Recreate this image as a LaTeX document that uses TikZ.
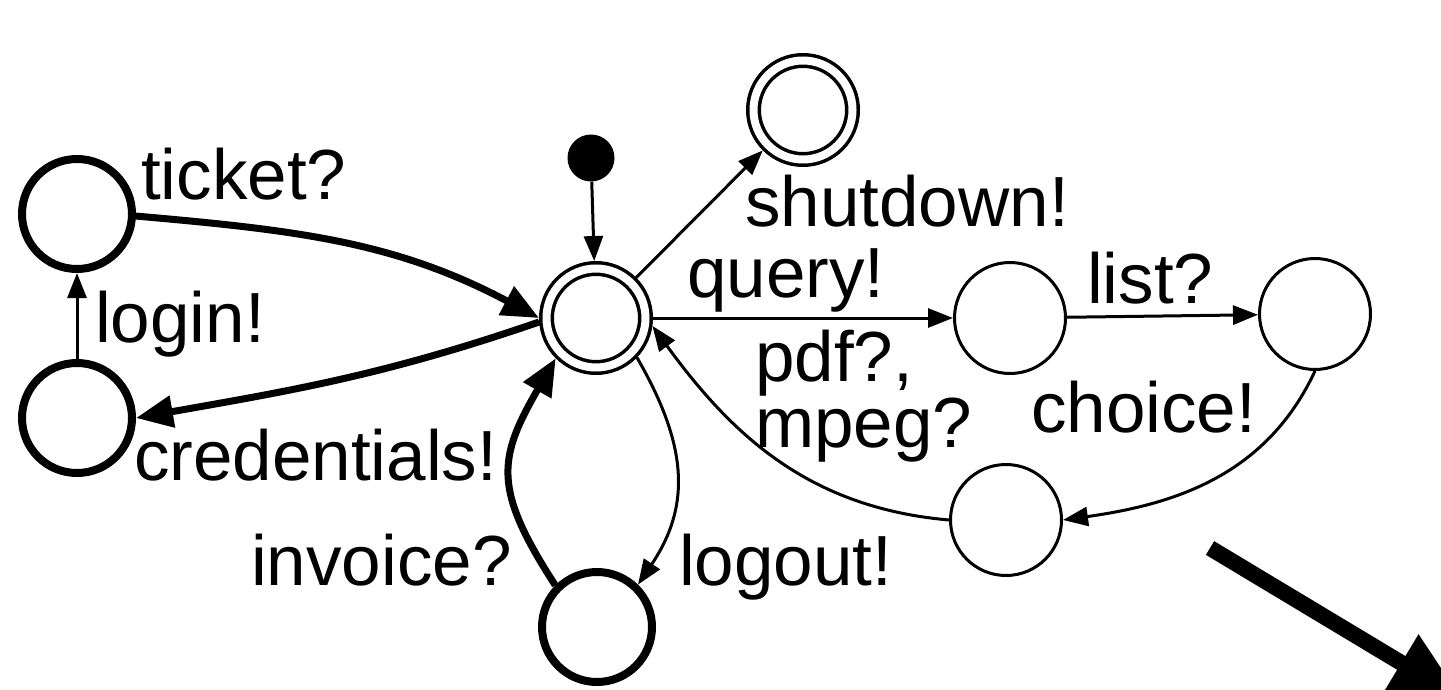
\documentclass[tikz,border=0pt]{standalone}
\usepackage{fontspec}
\setmainfont{Liberation Sans}
\usetikzlibrary{arrows.meta}
\begin{document}
\begin{tikzpicture}[x=1pt,y=1pt,
  every node/.style={font=\fontsize{71}{55}\selectfont},
  lbl/.style={anchor=base west, inner sep=0pt},
  thinstate/.style={circle, draw, line width=3pt, minimum size=111pt, inner sep=0pt},
  thickstate/.style={circle, draw, line width=8pt, minimum size=110pt, inner sep=0pt},
  finalstate/.style={circle, draw, line width=3.5pt, double, double distance=8pt, minimum size=99pt, inner sep=0pt, outer sep=7.5pt},
  initdot/.style={circle, fill, minimum size=47pt, inner sep=0pt},
  thinedge/.style={line width=3pt, -{Triangle[length=25pt,width=19pt]}},
  thickedge/.style={line width=7pt, -{Triangle[length=37pt,width=31pt]}},
  bigarrow/.style={line width=16pt, -{Triangle[length=72pt,width=62pt]}},
]
\useasboundingbox (0,0) rectangle (1441,-690);
\clip (0,0) rectangle (1441,-690);

% states
\node[thickstate] (A) at (77,-214) {};
\node[thickstate] (B) at (77,-418) {};
\node[initdot] (init) at (591,-158) {};
\node[finalstate] (C) at (596,-318) {};
\node[finalstate] (D) at (803,-110) {};
\node[thinstate] (E) at (1010,-318) {};
\node[thinstate] (F) at (1315,-314) {};
\node[thinstate] (G) at (1006,-520) {};
\node[thickstate] (H) at (597,-627) {};

% labels
\node[lbl] (lticket) at (141,-200) {ticket?};
\node[lbl] (llogin) at (95,-342) {login!};
\node[lbl] (lcred) at (134,-480) {credentials!};
\node[lbl] (lshut) at (745,-226) {shutdown!};
\node[lbl] (lquery) at (687,-297) {query!};
\node[lbl] (llist) at (1087,-303) {list?};
\node[lbl, align=left] (lpdf) at (755,-447) {pdf?,\\mpeg?};
\node[lbl] (lchoice) at (1031,-432) {choice!};
\node[lbl] (linv) at (251,-585) {invoice?};
\node[lbl] (llogout) at (679,-585) {logout!};

% edges
\draw[thinedge] (init) -- (C);
\draw[thinedge] (C) -- (D);
\draw[thinedge] (C) -- (E);
\draw[thinedge] (E) -- (F);
\draw[thinedge] (B) -- (A);
\draw[thickedge] (A.-2) to[out=-5,in=152] (C.180);
\draw[thickedge] (C.184) to[out=199,in=10] (B.east);
\draw[thinedge] (F.south) to[out=245,in=8] (G.east);
\draw[thinedge] (G.west) to[out=175,in=-54] (C.-8);
\draw[thinedge] (C.-44) to[out=-60,in=56,looseness=1.1] (H.46);
\draw[thickedge] (H.135) to[out=123,in=240,looseness=1.3] (C.225);

% big arrow
\coordinate (bigs) at (1210,-548);
\coordinate (bige) at (1463,-700);
\draw[bigarrow] (bigs) -- (bige);
\end{tikzpicture}
\end{document}
